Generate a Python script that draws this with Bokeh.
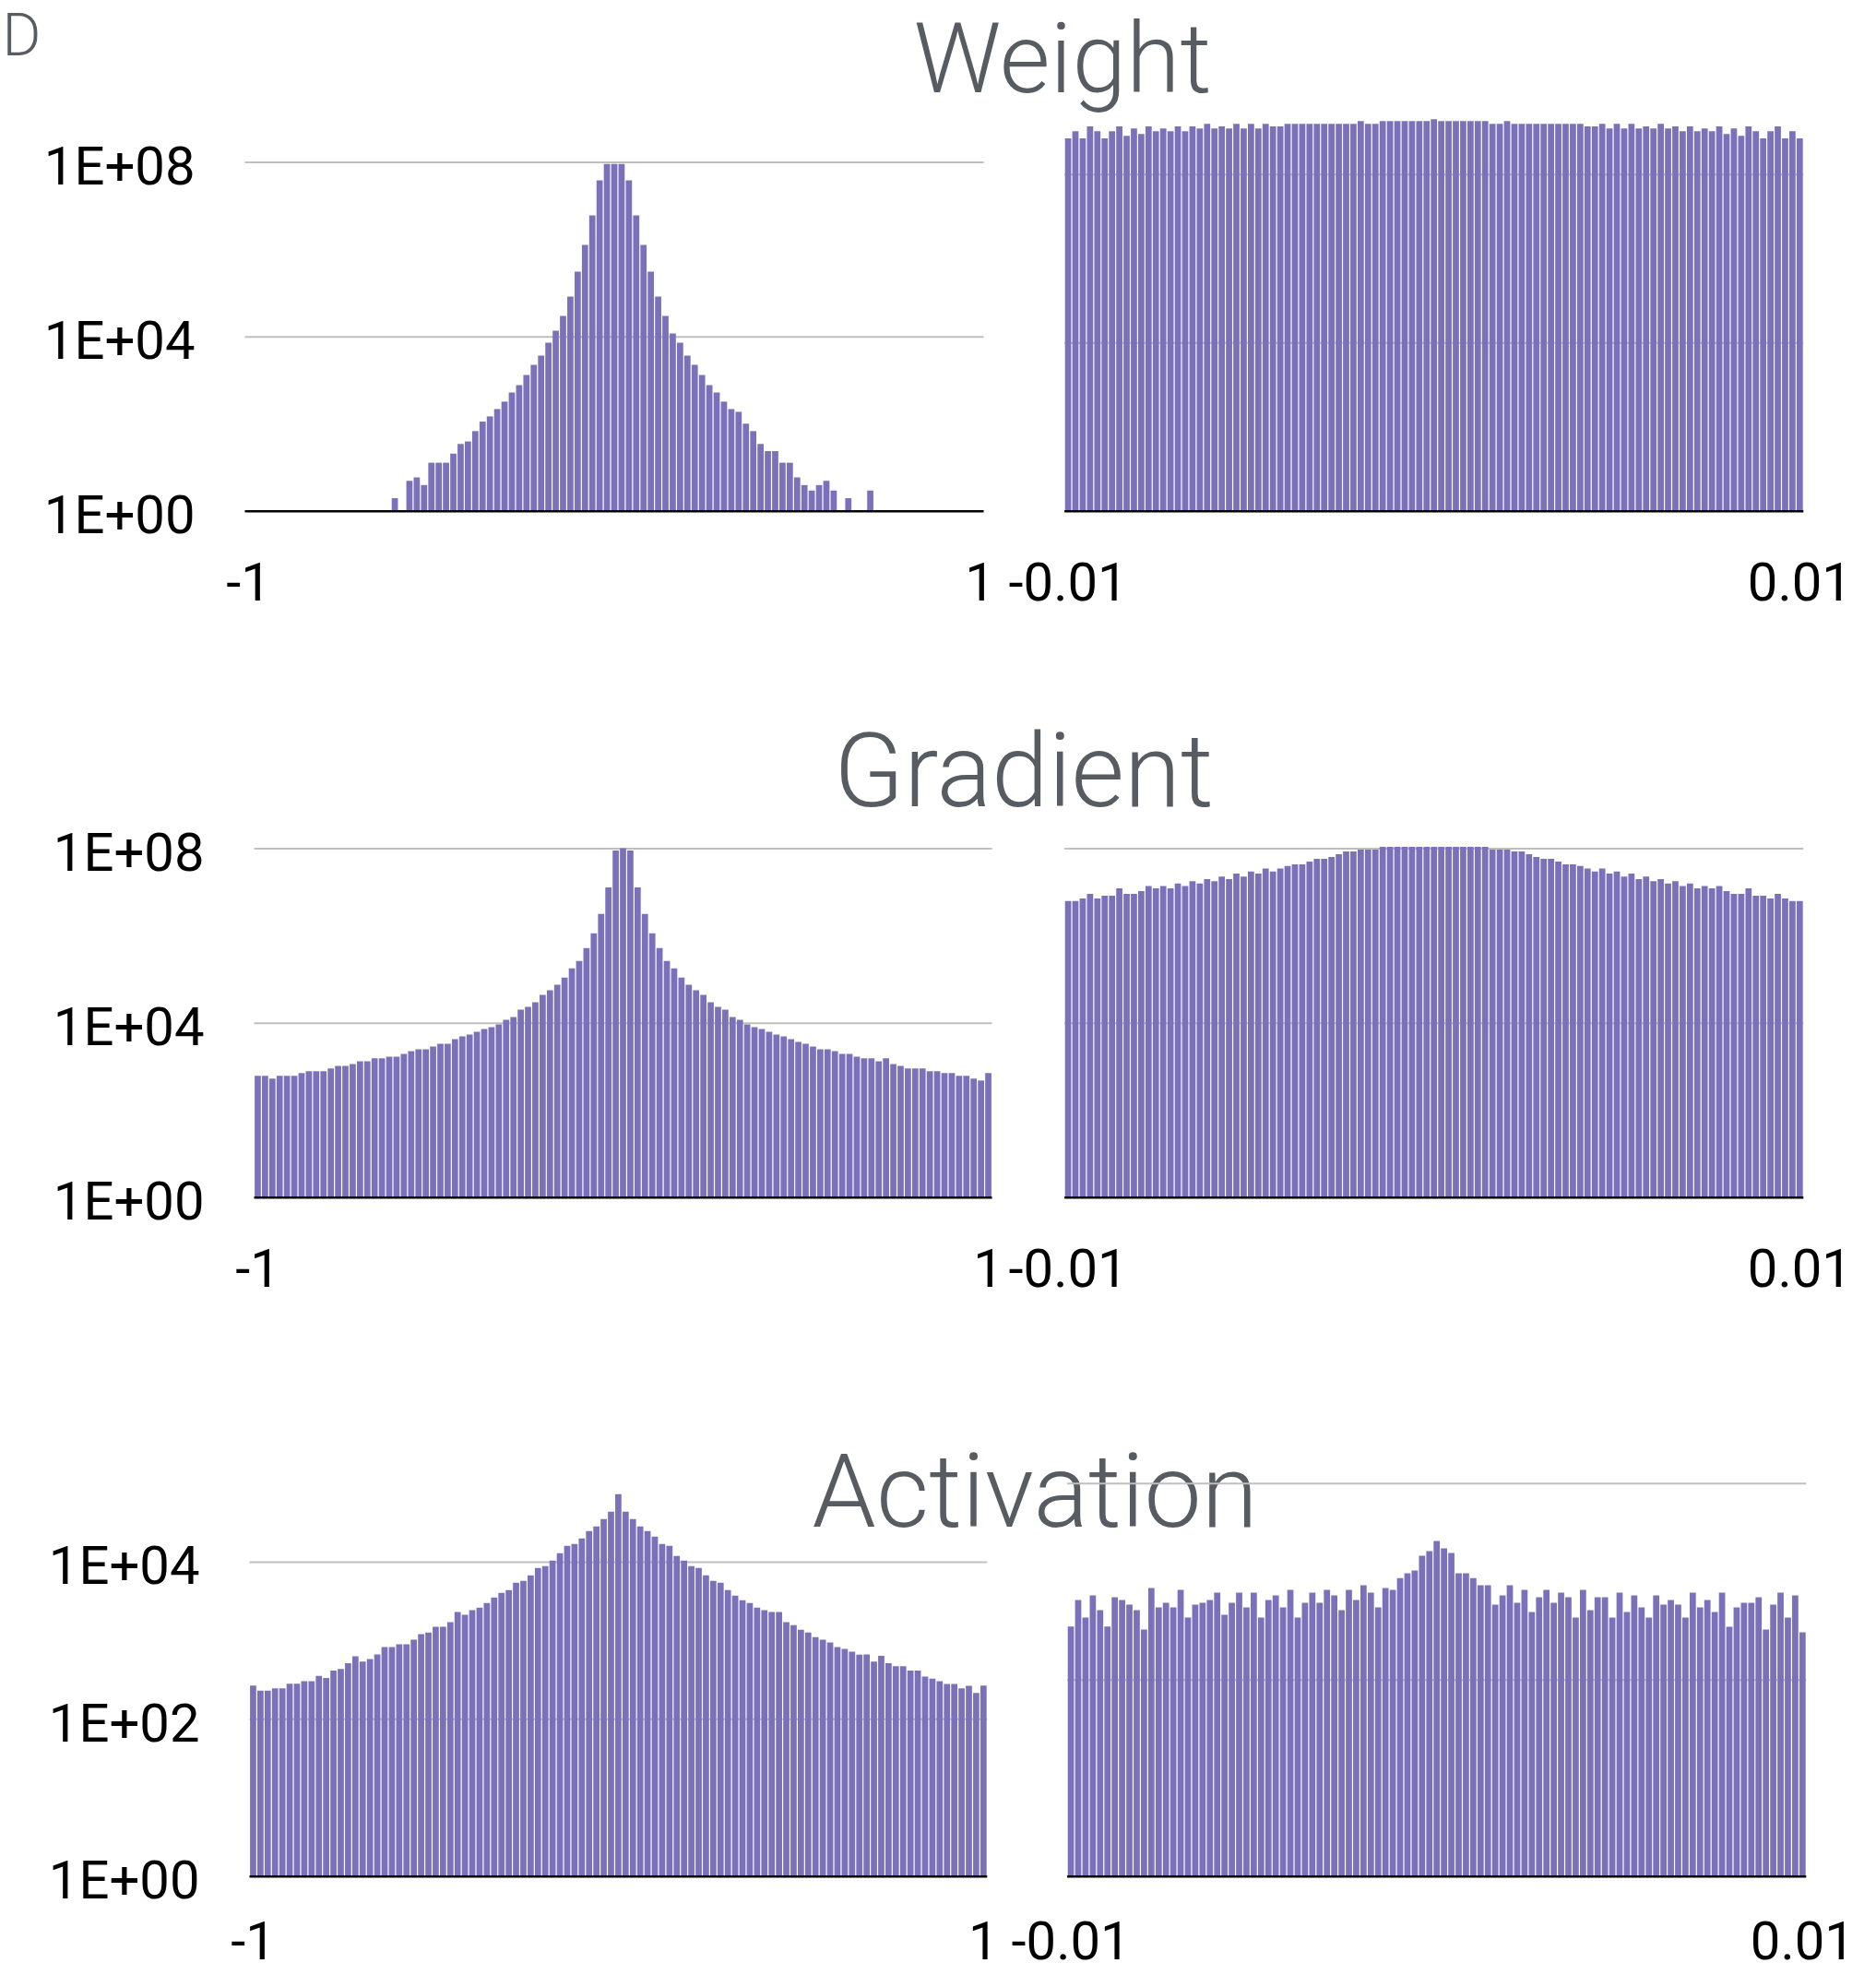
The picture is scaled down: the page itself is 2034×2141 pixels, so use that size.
from bokeh.plotting import figure
from bokeh.models import Range1d, LogScale, ColumnDataSource
from bokeh.core.properties import value
from bokeh.embed import file_html
from bokeh.resources import INLINE

# ---------------------------------------------------------------- data
# bin centres (categories): 101 bins over [-1, 1] and over [-0.01, 0.01]
coarse_bins = [round(-1 + 0.02 * i, 4) for i in range(101)]
fine_bins = [round(-0.01 + 0.0002 * i, 6) for i in range(101)]

weight_coarse = [
    0, 0, 0, 0, 0, 0, 0, 0, 0, 0,
    0, 0, 0, 0, 0, 0, 0, 0, 0, 0,
    2, 0, 5, 6, 4, 13, 13, 13, 21, 35,
    40, 69, 114, 150, 221, 327, 531, 784, 1340, 2290,
    3720, 7350, 13800, 30100, 83700, 311000, 1280000, 6050000, 38500000, 92000000,
    92000000,
    92000000, 38500000, 6050000, 1280000, 311000, 83700, 30100, 11900, 7350, 3720,
    2290, 1340, 784, 531, 327, 221, 191, 102, 69, 35,
    24, 24, 13, 13, 6, 4, 3, 4, 5, 3,
    0, 2, 0, 0, 3, 0, 0, 0, 0, 0,
    0, 0, 0, 0, 0, 0, 0, 0, 0, 0,
]

weight_fine = [
    4.4e6, 5.9e6, 4.4e6, 7.2e6, 5.9e6, 4.4e6, 5.9e6, 7.2e6, 4.9e6, 6.6e6,
    5.3e6, 7.2e6, 5.9e6, 6.6e6, 5.9e6, 7.2e6, 5.9e6, 7.2e6, 6.6e6, 8.0e6,
    6.6e6, 7.2e6, 6.6e6, 8.0e6, 6.6e6, 8.0e6, 6.6e6, 8.0e6, 7.2e6, 7.2e6,
    8.0e6, 8.0e6, 8.0e6, 8.0e6, 8.0e6, 8.0e6, 8.0e6, 8.0e6, 8.0e6, 8.0e6,
    9.0e6, 8.0e6, 8.0e6, 9.0e6, 9.0e6, 9.0e6, 9.0e6, 9.0e6, 9.0e6, 9.0e6,
    9.7e6,
    9.0e6, 9.0e6, 9.0e6, 9.0e6, 9.0e6, 9.0e6, 9.0e6, 8.0e6, 8.0e6, 9.0e6,
    8.0e6, 8.0e6, 8.0e6, 8.0e6, 8.0e6, 8.0e6, 8.0e6, 8.0e6, 8.0e6, 8.0e6,
    7.2e6, 7.2e6, 8.0e6, 6.6e6, 8.0e6, 6.6e6, 8.0e6, 6.6e6, 7.2e6, 6.6e6,
    8.0e6, 6.6e6, 7.2e6, 5.9e6, 7.2e6, 5.9e6, 6.6e6, 5.9e6, 7.2e6, 5.3e6,
    6.6e6, 4.9e6, 7.2e6, 5.9e6, 4.4e6, 5.9e6, 7.2e6, 4.4e6, 5.9e6, 4.4e6,
]

gradient_coarse = [
    618, 618, 534, 618, 618, 618, 715, 788, 788, 788,
    912, 1050, 1050, 1160, 1340, 1340, 1560, 1560, 1710, 1710,
    1980, 2290, 2530, 2530, 2920, 3380, 3380, 4310, 4990, 5490,
    6350, 7350, 8110, 9370, 11900, 13800, 20400, 23600, 30000, 44300,
    56500, 75700, 111000, 181000, 267000, 528000, 1150000, 3180000, 13000000, 91000000,
    103000000,
    91000000, 13000000, 3180000, 1150000, 528000, 267000, 181000, 111000, 75700, 56500,
    44300, 30000, 23600, 20400, 13800, 11900, 9370, 8110, 7350, 6350,
    5490, 4990, 4310, 3730, 3380, 2920, 2530, 2530, 2290, 1980,
    1980, 1710, 1560, 1560, 1340, 1560, 1160, 1050, 912, 912,
    912, 788, 788, 715, 715, 618, 618, 534, 485, 715,
]

gradient_fine = [
    6.3e6, 6.3e6, 7.2e6, 9.2e6, 7.2e6, 8.4e6, 8.4e6, 1.24e7, 9.2e6, 9.2e6,
    1.07e7, 1.4e7, 1.24e7, 1.4e7, 1.24e7, 1.6e7, 1.4e7, 1.8e7, 1.6e7, 2.0e7,
    1.8e7, 2.3e7, 2.0e7, 2.7e7, 2.3e7, 3.0e7, 2.7e7, 3.5e7, 3.0e7, 3.5e7,
    4.0e7, 4.4e7, 4.4e7, 5.1e7, 5.9e7, 5.9e7, 6.5e7, 7.5e7, 8.7e7, 8.7e7,
    9.6e7, 9.6e7, 9.6e7, 1.1e8, 1.1e8, 1.1e8, 1.1e8, 1.1e8, 1.1e8, 1.1e8,
    1.1e8,
    1.1e8, 1.1e8, 1.1e8, 1.1e8, 1.1e8, 1.1e8, 1.1e8, 9.6e7, 9.6e7, 9.6e7,
    8.7e7, 8.7e7, 7.5e7, 6.5e7, 5.9e7, 5.9e7, 5.1e7, 4.4e7, 4.4e7, 4.0e7,
    3.5e7, 3.0e7, 3.5e7, 2.7e7, 3.0e7, 2.3e7, 2.7e7, 2.0e7, 2.3e7, 1.8e7,
    2.0e7, 1.6e7, 1.8e7, 1.4e7, 1.6e7, 1.24e7, 1.4e7, 1.24e7, 1.4e7, 1.07e7,
    9.2e6, 9.2e6, 1.24e7, 8.4e6, 8.4e6, 7.2e6, 9.2e6, 7.2e6, 6.3e6, 6.3e6,
]

activation_coarse = [
    269, 231, 231, 248, 248, 284, 284, 305, 305, 356,
    335, 416, 438, 516, 632, 543, 583, 667, 828, 828,
    898, 898, 1030, 1210, 1270, 1500, 1500, 1720, 2310, 2130,
    2440, 2640, 3020, 3550, 4070, 4410, 5480, 5780, 6790, 8430,
    8900, 10450, 13000, 16100, 17000, 20000, 24800, 28400, 35200, 43700,
    73000,
    43700, 35200, 28400, 24800, 21100, 17000, 16100, 12000, 10450, 8900,
    8430, 6790, 5780, 5480, 4410, 3750, 3280, 3020, 2640, 2440,
    2310, 2310, 1720, 1580, 1380, 1270, 1110, 1030, 948, 828,
    785, 723, 662, 667, 543, 641, 516, 475, 475, 416,
    416, 349, 328, 305, 281, 281, 248, 267, 217, 269,
]

activation_fine = [
    350, 652, 432, 726, 514, 350, 695, 652, 585, 514,
    326, 863, 548, 611, 548, 827, 432, 585, 611, 652,
    775, 461, 611, 775, 548, 775, 432, 652, 726, 548,
    827, 432, 611, 775, 611, 827, 726, 514, 827, 652,
    921, 775, 548, 863, 827, 1090, 1220, 1300, 1840, 2050,
    2600,
    2190, 1960, 1220, 1220, 1090, 921, 921, 585, 726, 921,
    611, 827, 492, 695, 827, 611, 775, 695, 432, 827,
    514, 695, 695, 432, 775, 492, 726, 548, 432, 726,
    585, 652, 585, 432, 775, 548, 652, 492, 775, 348,
    548, 611, 611, 695, 326, 585, 775, 432, 726, 306,
]

titles = ["Weight", "Gradient", "Activation"]
panel_letter = "D"
coarse_x_labels = ["-1", "1"]
fine_x_labels = ["-0.01", "0.01"]
weight_coarse_ticks = [1, 1e4, 1e8]
weight_fine_ticks = [1, 1e3, 1e6]
gradient_ticks = [1, 1e4, 1e8]
activation_coarse_ticks = [1, 1e2, 1e4]
activation_fine_ticks = [1, 1e2, 1e4]
weight_y_labels = ["1E+00", "1E+04", "1E+08"]
gradient_y_labels = ["1E+00", "1E+04", "1E+08"]
activation_y_labels = ["1E+00", "1E+02", "1E+04"]

# ---------------------------------------------------------------- layout / style
W, H = 2030, 2140
BAR = "#7b71ba"
GREY_TEXT = "#575c63"
GRID = "#bfbfbf"
LABEL_FONT = "Roboto"
TITLE_FONT = "Roboto Light"
LABEL_SIZE = "58px"

# title placement (centre x, y, font size)
title_layout = [(1151.5, 63.0, "106px"), (1109.5, 835.9, "111px"), (1121.7, 1616.0, "111px")]

# panel: key, centres, counts, half-extent, ticks, x labels, y labels,
#        frame-left px, frame-right px, baseline px, px per decade, x-label offset
panels = [
    ("wl", coarse_bins, weight_coarse, 1.01, weight_coarse_ticks, coarse_x_labels, weight_y_labels,
     265.0, 1066.0, 553.8, 47.29, 76),
    ("wr", fine_bins, weight_fine, 0.0101, weight_fine_ticks, fine_x_labels, None,
     1153.6, 1954.8, 553.8, 60.85, 76),
    ("gl", coarse_bins, gradient_coarse, 1.01, gradient_ticks, coarse_x_labels, gradient_y_labels,
     275.0, 1075.0, 1297.8, 47.28, 76),
    ("gr", fine_bins, gradient_fine, 0.0101, gradient_ticks, fine_x_labels, None,
     1153.6, 1954.8, 1297.8, 47.28, 76),
    ("al", coarse_bins, activation_coarse, 1.01, activation_coarse_ticks, coarse_x_labels, activation_y_labels,
     270.0, 1069.8, 2033.7, 85.2, 69),
    ("ar", fine_bins, activation_fine, 0.0101, activation_fine_ticks, fine_x_labels, None,
     1156.6, 1957.8, 2033.7, 106.5, 69),
]

p = figure(width=W, height=H, output_backend="svg", toolbar_location=None,
           x_range=Range1d(0, W), y_range=Range1d(H, 0),
           x_axis_type=None, y_axis_type=None, min_border=0)
p.outline_line_color = None
p.background_fill_color = "white"
p.border_fill_color = "white"

xr, yr, ys = {}, {}, {}
for key, centres, counts, half, ticks, xl, yl, px0, px1, base, dec, xoff in panels:
    e0, e1 = -half, half
    a = (px1 - px0) / (e1 - e0)
    xr[key] = Range1d(e0 - px0 / a, e0 + (W - px0) / a)
    yr[key] = Range1d(10 ** (-(H - base) / dec), 10 ** (base / dec))
    ys[key] = LogScale()
p.extra_x_ranges = xr
p.extra_y_ranges = yr
p.extra_y_scales = ys

# titles and the panel letter in the top-left corner
for t, (tx, ty, tsize) in zip(titles, title_layout):
    p.text(x=[tx], y=[ty], text=[t],
           text_font=value(TITLE_FONT), text_font_size=tsize, text_color=GREY_TEXT,
           text_align="center", text_baseline="alphabetic")
p.text(x=[2.0], y=[37.5], text=[panel_letter],
       text_font=value(TITLE_FONT), text_font_size="64px", text_color=GREY_TEXT,
       text_align="left", text_baseline="alphabetic")

for key, centres, counts, half, ticks, xl, yl, px0, px1, base, dec, xoff in panels:
    e0, e1 = -half, half
    pitch = centres[1] - centres[0]
    grid_vals = ticks[1:]
    p.segment(x0=[e0] * len(grid_vals), x1=[e1] * len(grid_vals), y0=grid_vals, y1=grid_vals,
              line_color=GRID, line_width=2, x_range_name=key, y_range_name=key)
    xs = [c for c, v in zip(centres, counts) if v > 0]
    tops = [v for v in counts if v > 0]
    src = ColumnDataSource(dict(x=xs, top=tops))
    p.vbar(x="x", top="top", bottom=1, width=pitch * 0.85, source=src,
           fill_color=BAR, line_color=None, x_range_name=key, y_range_name=key)
    p.segment(x0=[e0], x1=[e1], y0=[ticks[0]], y1=[ticks[0]], line_color="black",
              line_width=2.5, x_range_name=key, y_range_name=key)
    p.text(x=[centres[0], centres[-1]], y=[ticks[0], ticks[0]], text=xl,
           text_font=value(LABEL_FONT), text_font_size=LABEL_SIZE, text_color="black",
           text_align="center", text_baseline="alphabetic", y_offset=xoff,
           x_range_name=key, y_range_name=key)
    if yl is not None:
        p.text(x=[e0] * len(ticks), y=ticks, text=yl,
               text_font=value(LABEL_FONT), text_font_size=LABEL_SIZE, text_color="black",
               text_align="right", text_baseline="alphabetic", x_offset=-54, y_offset=4,
               x_range_name=key, y_range_name=key)

open("out.html", "w").write(file_html(p, INLINE))
